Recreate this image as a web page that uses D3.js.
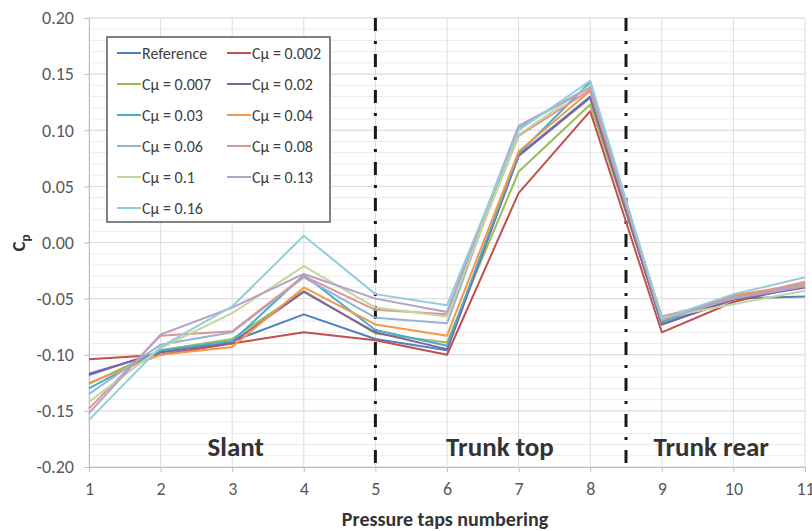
<!DOCTYPE html>
<html>
<head>
<meta charset="utf-8">
<script src="https://cdn.jsdelivr.net/npm/d3@7"></script>
<style>
  body { margin: 0; background: white; }
  text { font-family: Calibri, Carlito, "Open Sans", sans-serif; }
</style>
</head>
<body>
<svg id="chart" width="812" height="531"></svg>
<script>
let taps = [1, 2, 3, 4, 5, 6, 7, 8, 9, 10, 11]
let yTicks = [-0.20, -0.15, -0.10, -0.05, 0.00, 0.05, 0.10, 0.15, 0.20]

let seriesNames = ['Reference', 'Cμ = 0.002', 'Cμ = 0.007', 'Cμ = 0.02', 'Cμ = 0.03', 'Cμ = 0.04',
                   'Cμ = 0.06', 'Cμ = 0.08', 'Cμ = 0.1', 'Cμ = 0.13', 'Cμ = 0.16']
let seriesColors = ['#4f81bd', '#c0504d', '#9bbb59', '#8064a2', '#4bacc6', '#f79646',
                    '#95b3d7', '#d99694', '#c3d69b', '#b3a2c7', '#93cddd']

let cpReference = [-0.118, -0.097, -0.088, -0.064, -0.086, -0.096, 0.078, 0.130, -0.073, -0.050, -0.048]
let cp0002 = [-0.104, -0.100, -0.090, -0.080, -0.087, -0.100, 0.044, 0.117, -0.080, -0.053, -0.038]
let cp0007 = [-0.126, -0.096, -0.086, -0.043, -0.081, -0.089, 0.063, 0.123, -0.070, -0.049, -0.040]
let cp002 = [-0.117, -0.098, -0.089, -0.044, -0.080, -0.095, 0.077, 0.129, -0.073, -0.051, -0.040]
let cp003 = [-0.130, -0.096, -0.088, -0.029, -0.078, -0.092, 0.079, 0.143, -0.071, -0.048, -0.037]
let cp004 = [-0.125, -0.100, -0.093, -0.040, -0.073, -0.083, 0.081, 0.135, -0.069, -0.047, -0.037]
let cp006 = [-0.135, -0.091, -0.080, -0.031, -0.067, -0.072, 0.102, 0.139, -0.068, -0.049, -0.038]
let cp008 = [-0.148, -0.083, -0.079, -0.030, -0.060, -0.064, 0.095, 0.136, -0.066, -0.050, -0.035]
let cp01 = [-0.142, -0.094, -0.063, -0.021, -0.058, -0.066, 0.096, 0.140, -0.067, -0.055, -0.043]
let cp013 = [-0.152, -0.082, -0.058, -0.028, -0.050, -0.062, 0.104, 0.138, -0.068, -0.050, -0.039]
let cp016 = [-0.158, -0.093, -0.057, 0.006, -0.046, -0.056, 0.100, 0.144, -0.068, -0.046, -0.031]

let seriesValues = [cpReference, cp0002, cp0007, cp002, cp003, cp004, cp006, cp008, cp01, cp013, cp016]

// dividers between the regions of the car
let dividers = [5, 8.5]
let regions = [{name: 'Slant', at: 3.05}, {name: 'Trunk top', at: 6.74}, {name: 'Trunk rear', at: 9.69}]

let svg = d3.select('#chart')

let x = d3.scaleLinear().domain([1, 11]).range([89, 805])
let y = d3.scaleLinear().domain([-0.2, 0.2]).range([467, 18])

let grid = svg.append('g')

// minor grid every 0.01
grid.selectAll('.minor').data(d3.range(-20, 21).map(d => d / 100)).enter()
  .append('line')
  .attr('x1', x(1)).attr('x2', x(11))
  .attr('y1', d => y(d)).attr('y2', d => y(d))
  .attr('stroke', '#ebebeb')
  .attr('stroke-width', 1)

grid.selectAll('.major').data(yTicks).enter()
  .append('line')
  .attr('x1', x(1)).attr('x2', x(11))
  .attr('y1', d => y(d)).attr('y2', d => y(d))
  .attr('stroke', '#dcdcdc')
  .attr('stroke-width', 1)

grid.selectAll('.vert').data(taps).enter()
  .append('line')
  .attr('x1', d => x(d)).attr('x2', d => x(d))
  .attr('y1', y(0.2)).attr('y2', y(-0.2))
  .attr('stroke', '#dcdcdc')
  .attr('stroke-width', 1)

// axes (plain hyphen for negatives, like the original)
let yAxis = svg.append('g')
  .attr('transform', `translate(${x(1)},0)`)
  .call(d3.axisLeft(y).tickValues(yTicks).tickFormat(d => d.toFixed(2)).tickSize(5).tickPadding(10))
yAxis.select('.domain').attr('stroke', '#bfbfbf')
yAxis.selectAll('.tick line').attr('stroke', '#bfbfbf')
yAxis.selectAll('text').attr('font-size', 18).attr('fill', '#595959')
  .attr('font-family', 'Calibri, Carlito, "Open Sans", sans-serif')

let xAxis = svg.append('g')
  .attr('transform', `translate(0,${y(-0.2)})`)
  .call(d3.axisBottom(x).tickValues(taps).tickFormat(d3.format('d')).tickSize(5).tickPadding(10))
xAxis.select('.domain').attr('stroke', '#bfbfbf')
xAxis.selectAll('.tick line').attr('stroke', '#bfbfbf')
xAxis.selectAll('text').attr('font-size', 18).attr('fill', '#595959')
  .attr('font-family', 'Calibri, Carlito, "Open Sans", sans-serif')

// region dividers
svg.selectAll('.divider').data(dividers).enter()
  .append('line')
  .attr('x1', d => x(d)).attr('x2', d => x(d))
  .attr('y1', y(0.2)).attr('y2', y(-0.2))
  .attr('stroke', '#1a1a1a')
  .attr('stroke-width', 3)
  .attr('stroke-dasharray', '13,10,3,10')

// series lines
let line = d3.line()
  .x((d, i) => x(taps[i]))
  .y(d => y(d))

svg.append('g').selectAll('path').data(seriesValues).enter()
  .append('path')
  .attr('d', d => line(d))
  .attr('fill', 'none')
  .attr('stroke', (d, i) => seriesColors[i])
  .attr('stroke-width', 2)
  .attr('stroke-linejoin', 'round')

// region labels
svg.selectAll('.region').data(regions).enter()
  .append('text')
  .attr('x', d => x(d.at))
  .attr('y', 456)
  .attr('text-anchor', 'middle')
  .attr('font-size', 27)
  .attr('font-weight', 'bold')
  .attr('fill', '#333')
  .text(d => d.name)

// axis titles
svg.append('text')
  .attr('x', 445)
  .attr('y', 526)
  .attr('text-anchor', 'middle')
  .attr('font-size', 20)
  .attr('font-weight', 'bold')
  .attr('fill', '#333')
  .text('Pressure taps numbering')

let yTitle = svg.append('text')
  .attr('transform', 'translate(25,243) rotate(-90)')
  .attr('text-anchor', 'middle')
  .attr('font-size', 19)
  .attr('font-weight', 'bold')
  .attr('fill', '#333')
yTitle.append('tspan').text('C')
yTitle.append('tspan').attr('font-size', 13).attr('dy', 5).text('p')

// legend
let legend = svg.append('g').attr('transform', 'translate(107,37)')
legend.append('rect')
  .attr('width', 223).attr('height', 185)
  .attr('fill', 'white')
  .attr('stroke', '#595959')
  .attr('stroke-width', 1.5)

let items = legend.selectAll('.item').data(seriesNames).enter()
  .append('g')
  .attr('transform', (d, i) => `translate(${10 + (i % 2) * 110},${16 + Math.floor(i / 2) * 31})`)

items.append('line')
  .attr('x1', 0).attr('x2', 24)
  .attr('stroke', (d, i) => seriesColors[i])
  .attr('stroke-width', 2)

items.append('text')
  .attr('x', 25)
  .attr('dy', '0.35em')
  .attr('font-size', 16)
  .attr('fill', '#404040')
  .text(d => d)
</script>
</body>
</html>
